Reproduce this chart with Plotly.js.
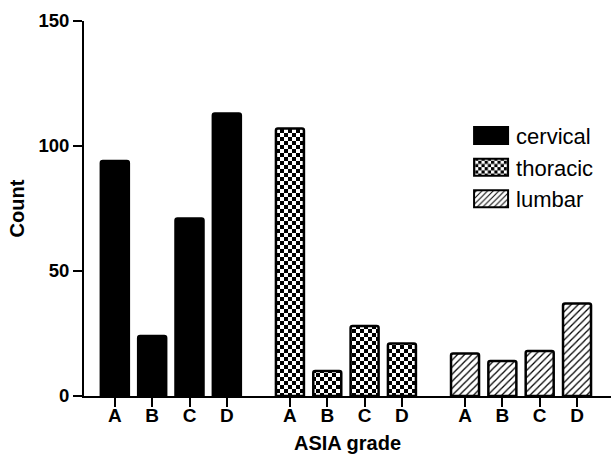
<!DOCTYPE html>
<html>
<head>
<meta charset="utf-8">
<script src="https://cdn.plot.ly/plotly-3.0.1.min.js"></script>
<style>
  html, body { margin: 0; padding: 0; background: #fff; }
  #chart { width: 611px; height: 458px; }
</style>
</head>
<body>
<div id="chart"></div>
<script>
// ---- data ----
const grades = ['A', 'B', 'C', 'D'];
const seriesNames = ['cervical', 'thoracic', 'lumbar'];
const cervical = [94, 24, 71, 113];
const thoracic = [107, 10, 28, 21];
const lumbar = [17, 14, 18, 37];

// ---- layout helpers ----
const groupStep = 4.69;   // spacing between group starts (in category slots)
function positions(g) { return grades.map((_, i) => g * groupStep + i); }

const allPos = [0, 1, 2].flatMap(positions);
const allText = [0, 1, 2].flatMap(() => grades);

const FONT = 'Liberation Sans, Arial, sans-serif';
const lineStyle = { color: '#000', width: 2.5 };
const data = [
  {
    type: 'bar', name: seriesNames[0], x: positions(0), y: cervical, width: 0.75,
    marker: { color: '#000', line: lineStyle, cornerradius: 2 }
  },
  {
    type: 'bar', name: seriesNames[1], x: positions(1), y: thoracic, width: 0.75,
    marker: { color: '#fff', line: lineStyle, cornerradius: 2,
      pattern: { shape: '.', fgcolor: '#000', bgcolor: '#fff', size: 8, solidity: 0.4, fillmode: 'replace' } }
  },
  {
    type: 'bar', name: seriesNames[2], x: positions(2), y: lumbar, width: 0.75,
    marker: { color: '#fff', line: lineStyle, cornerradius: 2,
      pattern: { shape: '/', fgcolor: '#000', bgcolor: '#fff', size: 5, solidity: 0.25, fillmode: 'replace' } }
  }
];

const layout = {
  width: 611, height: 458,
  margin: { l: 84, r: 0, t: 21, b: 62 },
  paper_bgcolor: '#fff', plot_bgcolor: '#fff',
  font: { family: FONT, color: '#000' },
  showlegend: true,
  legend: {
    x: 0.725, y: 0.75, xanchor: 'left', yanchor: 'top',
    font: { size: 22, family: FONT, color: '#000' },
    bgcolor: 'rgba(0,0,0,0)', itemwidth: 40, traceorder: 'normal'
  },
  xaxis: {
    range: [-0.826, 2 * groupStep + 3 + 0.91],
    tickmode: 'array', tickvals: allPos, ticktext: allText,
    showline: true, linewidth: 2, linecolor: '#000',
    ticks: 'outside', ticklen: 9, tickwidth: 2, tickcolor: '#000',
    ticklabelstandoff: -8,
    showgrid: false, zeroline: false,
    tickfont: { size: 19, family: FONT, weight: 'bold' },
    title: { text: '<b>ASIA grade</b>', font: { size: 20 }, standoff: 11 }
  },
  yaxis: {
    range: [0, 150],
    tickvals: [0, 50, 100, 150],
    showline: true, linewidth: 2, linecolor: '#000',
    ticks: 'outside', ticklen: 9, tickwidth: 2, tickcolor: '#000',
    showgrid: false, zeroline: false,
    tickfont: { size: 18.5, family: FONT, weight: 'bold' },
    title: { text: '<b>Count</b>', font: { size: 20 }, standoff: 8 }
  }
};

const gd = document.getElementById('chart');
const SVGNS = 'http://www.w3.org/2000/svg';

function restyleDecor() {
  // turn the dot pattern into a checkerboard
  gd.querySelectorAll('pattern').forEach(p => {
    if (!p.querySelector('circle')) return;
    while (p.firstChild) p.removeChild(p.firstChild);
    p.setAttribute('width', 8);
    p.setAttribute('height', 8);
    const mk = (x, y, w, h, c) => {
      const r = document.createElementNS(SVGNS, 'rect');
      r.setAttribute('x', x); r.setAttribute('y', y);
      r.setAttribute('width', w); r.setAttribute('height', h);
      r.setAttribute('fill', c);
      p.appendChild(r);
    };
    mk(0, 0, 8, 8, '#fff');
    mk(0, 0, 4, 4, '#000');
    mk(4, 4, 4, 4, '#000');
  });
  // larger legend swatches
  gd.querySelectorAll('.legend path.legendbar, .legend path.legendundefined').forEach(p => {
    p.setAttribute('d', 'M17,8.5H-17V-8.5H17Z');
    p.style.strokeWidth = '2px';
  });
}

Plotly.newPlot(gd, data, layout, { staticPlot: true }).then(restyleDecor);
</script>
</body>
</html>
